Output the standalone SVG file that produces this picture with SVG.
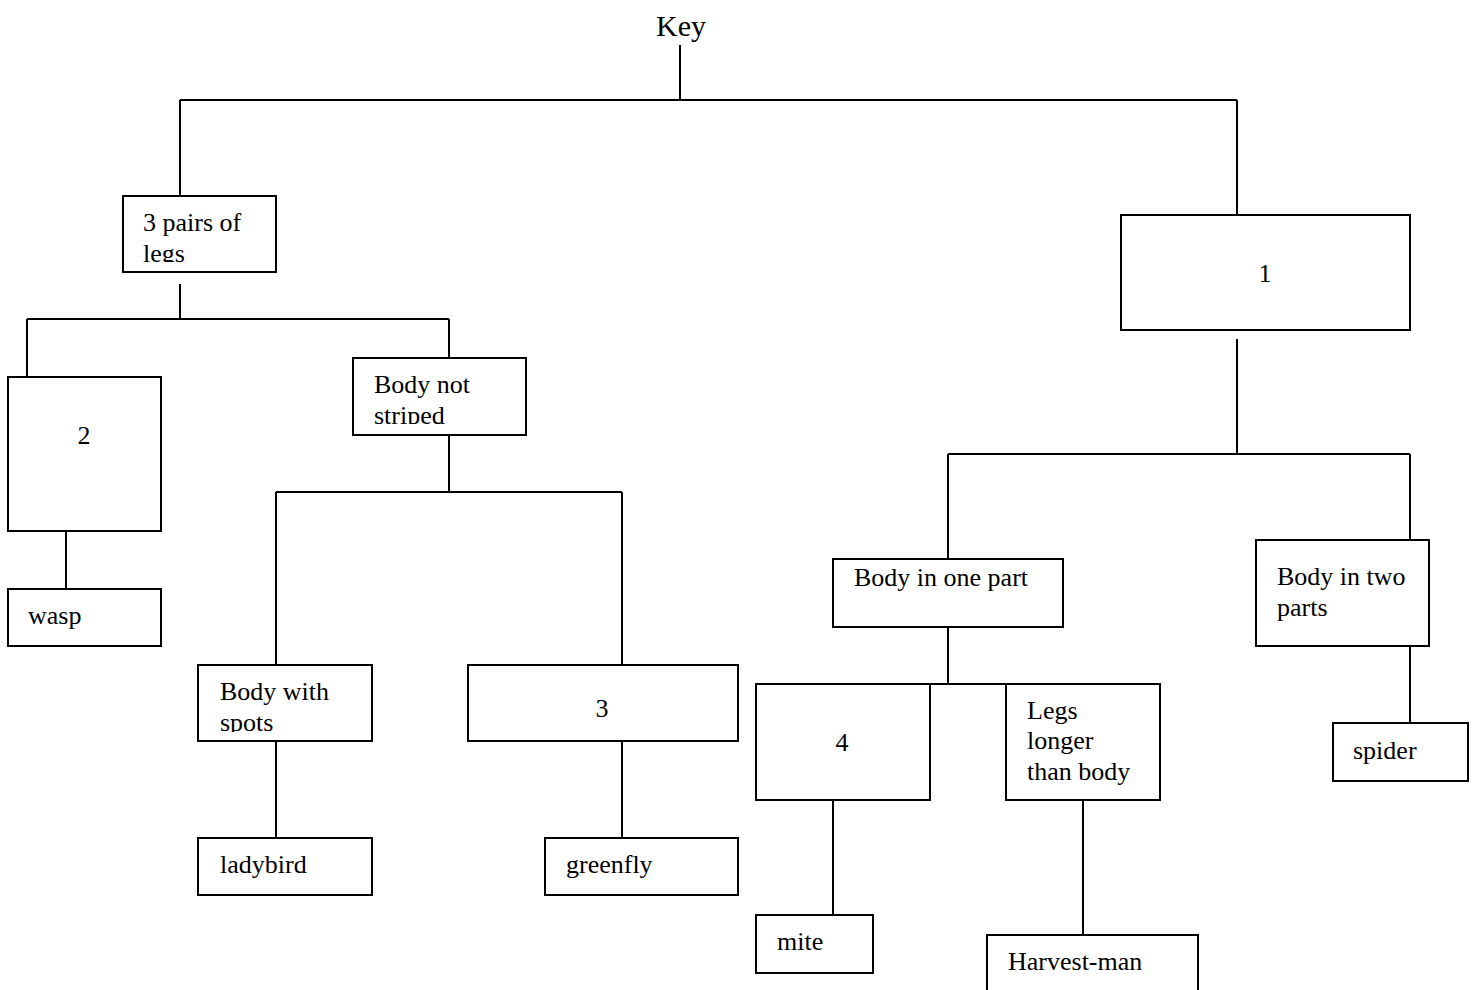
<svg xmlns="http://www.w3.org/2000/svg" width="1474" height="990" viewBox="0 0 1474 990">
<style>
.b{fill:#fff;stroke:#000;stroke-width:2}
.c{fill:none;stroke:#000;stroke-width:2}
text{font-family:"Liberation Serif","Times New Roman",serif;font-size:26px;fill:#000}
.m{text-anchor:middle}
</style>
<defs>
<clipPath id="cp1"><rect x="123" y="196" width="153" height="66"/></clipPath>
<clipPath id="cp2"><rect x="353" y="358" width="173" height="66"/></clipPath>
<clipPath id="cp3"><rect x="198" y="665" width="174" height="67"/></clipPath>
</defs>
<rect width="1474" height="990" fill="#fff"/>
<g id="connectors">
<path class="c" d="M680 45V100M180 100H1237M180 100V196M1237 100V215"/>
<path class="c" d="M180 284V319M27 319H449M27 319V377M449 319V358"/>
<path class="c" d="M66 531V589"/>
<path class="c" d="M449 435V492M276 492H622M276 492V665M622 492V665"/>
<path class="c" d="M276 741V838M622 741V838"/>
<path class="c" d="M1237 339V454M948 454H1410M948 454V559M1410 454V540"/>
<path class="c" d="M948 627V684M833 684H1006"/>
<path class="c" d="M833 800V915M1083 800V935M1410 646V723"/>
</g>
<g id="key"><text class="m" x="681" y="36" style="font-size:30px">Key</text></g>
<g id="n-pairs"><rect class="b" x="123" y="196" width="153" height="76"/><g clip-path="url(#cp1)"><text x="143" y="231">3 pairs of</text><text x="143" y="262">legs</text></g></g>
<g id="n-2"><rect class="b" x="8" y="377" width="153" height="154"/><text class="m" x="84" y="444">2</text></g>
<g id="n-wasp"><rect class="b" x="8" y="589" width="153" height="57"/><text x="28" y="624">wasp</text></g>
<g id="n-notstriped"><rect class="b" x="353" y="358" width="173" height="77"/><g clip-path="url(#cp2)"><text x="374" y="393">Body not</text><text x="374" y="424">striped</text></g></g>
<g id="n-spots"><rect class="b" x="198" y="665" width="174" height="76"/><g clip-path="url(#cp3)"><text x="220" y="700">Body with</text><text x="220" y="731">spots</text></g></g>
<g id="n-ladybird"><rect class="b" x="198" y="838" width="174" height="57"/><text x="220" y="873">ladybird</text></g>
<g id="n-3"><rect class="b" x="468" y="665" width="270" height="76"/><text class="m" x="602" y="717">3</text></g>
<g id="n-greenfly"><rect class="b" x="545" y="838" width="193" height="57"/><text x="566" y="873">greenfly</text></g>
<g id="n-1"><rect class="b" x="1121" y="215" width="289" height="115"/><text class="m" x="1265" y="282">1</text></g>
<g id="n-onepart"><rect class="b" x="833" y="559" width="230" height="68"/><text x="854" y="586">Body in one part</text></g>
<g id="n-twoparts"><rect class="b" x="1256" y="540" width="173" height="106"/><text x="1277" y="585">Body in two</text><text x="1277" y="616">parts</text></g>
<g id="n-4"><rect class="b" x="756" y="684" width="174" height="116"/><text class="m" x="842" y="751">4</text></g>
<g id="n-legslonger"><rect class="b" x="1006" y="684" width="154" height="116"/><text x="1027" y="719">Legs</text><text x="1027" y="749">longer</text><text x="1027" y="780">than body</text></g>
<g id="n-mite"><rect class="b" x="756" y="915" width="117" height="58"/><text x="777" y="950">mite</text></g>
<g id="n-harvestman"><rect class="b" x="987" y="935" width="211" height="70"/><text x="1008" y="970">Harvest-man</text></g>
<g id="n-spider"><rect class="b" x="1333" y="723" width="135" height="58"/><text x="1353" y="759">spider</text></g>
</svg>
